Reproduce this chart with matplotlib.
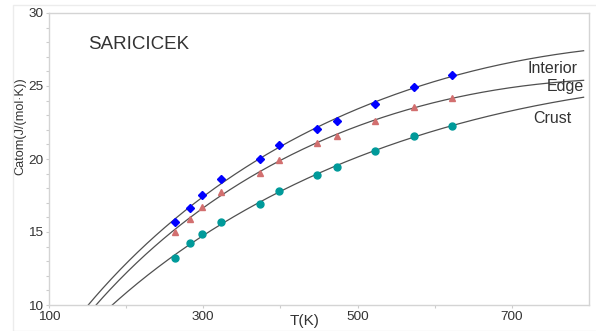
import numpy as np
import matplotlib.pyplot as plt
from matplotlib.patches import Rectangle

plt.rcParams['font.family'] = ['Liberation Sans', 'DejaVu Sans']

# temperatures (K) of the measurements
T = np.array([263, 283, 298, 323, 373, 398, 448, 473, 523, 573, 623])

# Cp per atom, J/(mol K)
interior = np.array([15.66, 16.62, 17.51, 18.63, 19.98, 20.98, 22.08, 22.60, 23.79, 24.91, 25.77])
edge = np.array([15.00, 15.91, 16.73, 17.76, 19.04, 19.93, 21.07, 21.58, 22.62, 23.56, 24.20])
crust = np.array([13.20, 14.23, 14.88, 15.66, 16.90, 17.83, 18.90, 19.47, 20.57, 21.60, 22.28])

names = ['Interior', 'Edge', 'Crust']
series = [interior, edge, crust]
markers = ['D', '^', 'o']
colors = ['#0000ff', '#d26f6f', '#009a9a']
msizes = [4.5, 5, 5]

xticks = [100, 300, 500, 700]
yticks = [10, 15, 20, 25, 30]

fig = plt.figure(figsize=(5.96, 3.31), dpi=100)
ax = fig.add_axes([49/596, 1-305/331, 540/596, 292/331])

# fitted curve  Cp = a + bT + cT*ln(T)
def basis(t):
    t = np.asarray(t, float)
    return np.column_stack([np.ones_like(t), t, t*np.log(t)])

tt = np.linspace(140, 793, 400)
for y, m, c, ms in zip(series, markers, colors, msizes):
    coef, *_ = np.linalg.lstsq(basis(T), y, rcond=None)
    ax.plot(tt, basis(tt) @ coef, color='#505050', lw=0.9, zorder=2)
    ax.plot(T, y, m, color=c, ms=ms, mec=c, zorder=3, ls='none')

ax.set_xlim(100, 800)
ax.set_ylim(10, 30)
ax.set_xticks(xticks)
ax.set_yticks(yticks)
ax.set_xticks([200, 400, 600], minor=True)
ax.set_yticks(np.arange(10, 30, 1), minor=True)
ax.tick_params(which='both', direction='out', color='#cccccc', labelsize=9.7,
               labelcolor='#333333', width=0.8)
ax.tick_params(which='major', length=2.5, pad=1.5)
ax.tick_params(which='minor', length=2)
for s in ax.spines.values():
    s.set_color('#d4d4d4')
    s.set_linewidth(1)

ax.set_xlabel('T(K)', fontsize=11, color='#333333', va='top')
ax.xaxis.set_label_coords(0.473, -0.03)
ax.set_ylabel('Catom(J/(mol·K))', fontsize=9.2, color='#333333')
ax.yaxis.set_label_coords(-0.041, 0.611)

ax.text(151, 27.53, 'SARICICEK', fontsize=13.5, color='#333333')
ax.text(785, 25.87, 'Interior', fontsize=11.5, color='#333333', ha='right')
ax.text(793, 24.66, 'Edge', fontsize=11.5, color='#333333', ha='right')
ax.text(777, 22.45, 'Crust', fontsize=11.5, color='#333333', ha='right')

fig.patches.append(Rectangle((13/596, 0), 1, 1-5/331, transform=fig.transFigure,
                             fill=False, ec='#ececec', lw=1))

fig.savefig('out.png', dpi=100)
